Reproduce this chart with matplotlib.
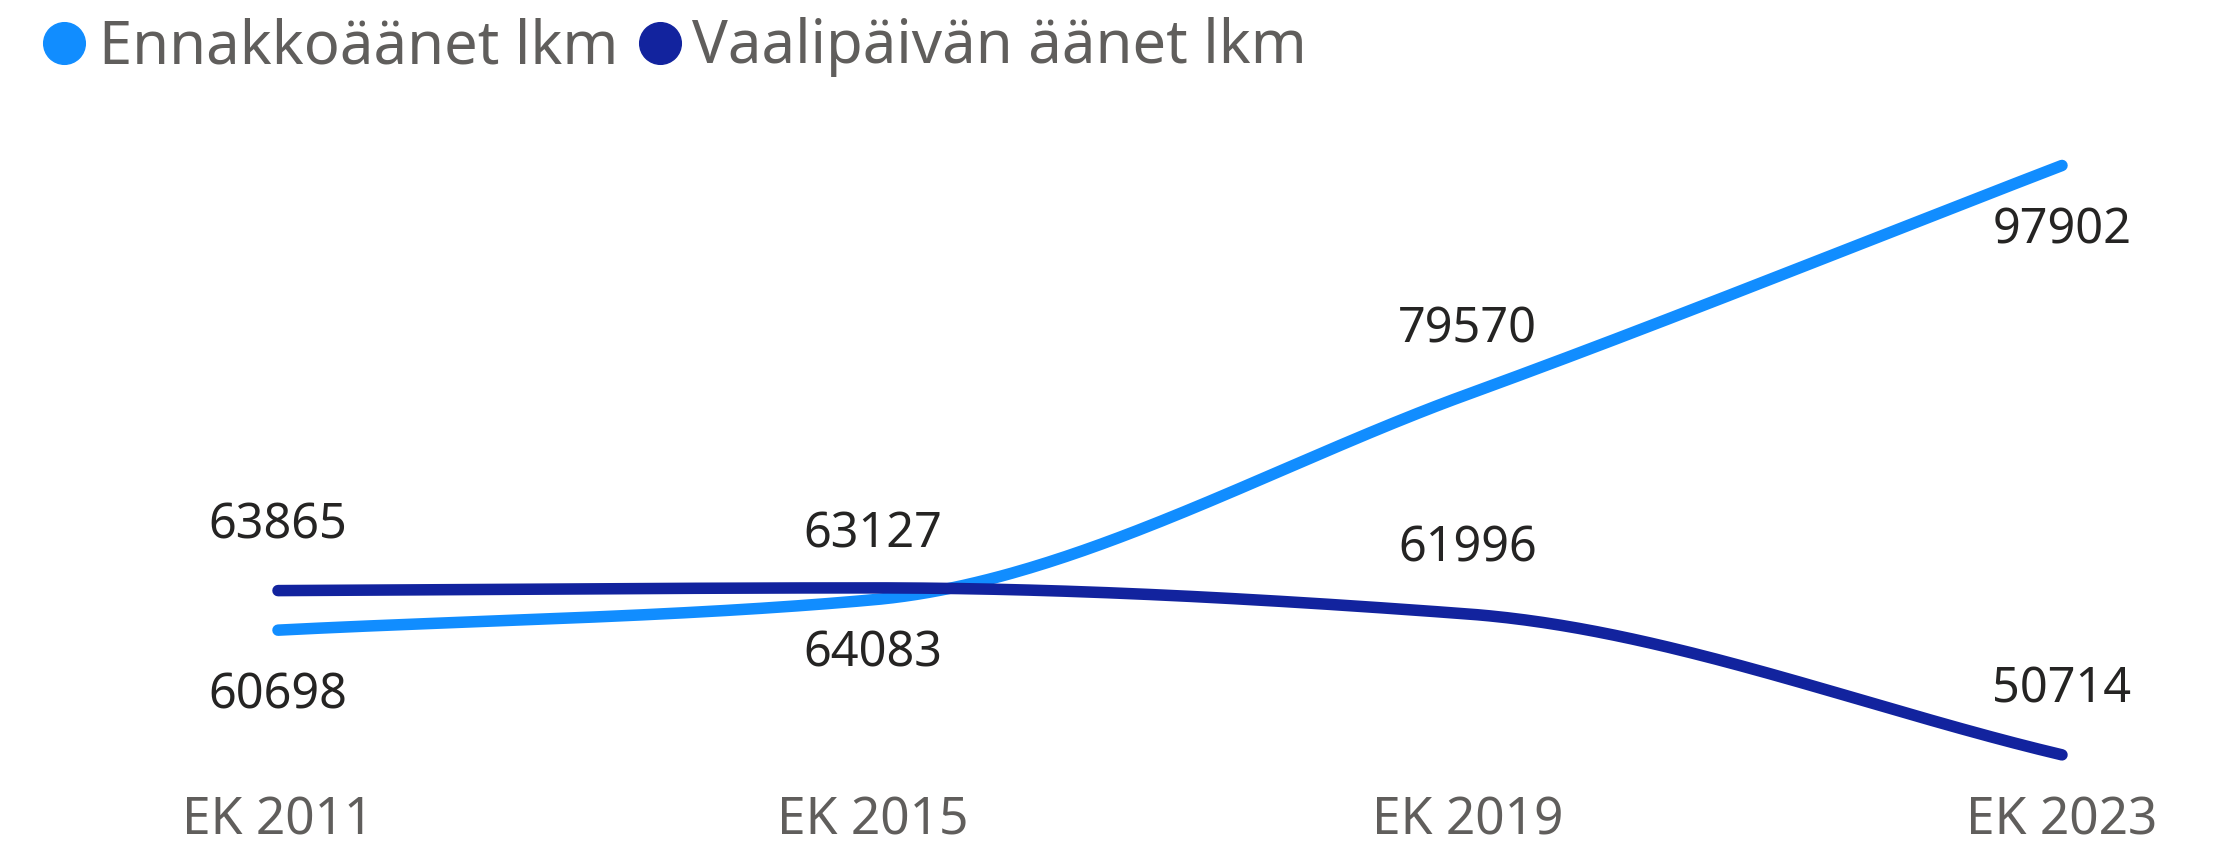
import numpy as np
import matplotlib
matplotlib.use("Agg")
from matplotlib import pyplot as plt
from matplotlib.lines import Line2D

plt.rcParams['font.family'] = ['Noto Sans', 'DejaVu Sans']

# data
years = ["EK 2011", "EK 2015", "EK 2019", "EK 2023"]
ennakko = [60698, 63127, 79570, 97902]
vaalipaiva = [63865, 64083, 61996, 50714]
# label placement per point: +1 above, -1 below
ennakko_side = [-1, 1, 1, -1]
vaalipaiva_side = [1, -1, 1, 1]
legend_labels = ["Ennakkoäänet lkm", "Vaalipäivän äänet lkm"]

c_ennakko = "#118DFF"
c_vaali = "#12239E"


def monotone_curve(y, n=300):
    # Fritsch-Carlson monotone cubic, like the smooth lines in the original
    y = np.asarray(y, dtype=float)
    d = np.diff(y)
    m = np.zeros_like(y)
    m[0], m[-1] = d[0], d[-1]
    for i in range(1, len(y) - 1):
        if d[i - 1] * d[i] <= 0:
            m[i] = 0
        else:
            m[i] = 2 / (1 / d[i - 1] + 1 / d[i])
    xs = np.linspace(0, len(y) - 1, n)
    ys = np.empty_like(xs)
    for j, xv in enumerate(xs):
        i = min(int(xv), len(y) - 2)
        t = xv - i
        h00 = 2 * t**3 - 3 * t**2 + 1
        h10 = t**3 - 2 * t**2 + t
        h01 = -2 * t**3 + 3 * t**2
        h11 = t**3 - t**2
        ys[j] = h00 * y[i] + h10 * m[i] + h01 * y[i + 1] + h11 * m[i + 1]
    return xs, ys


fig = plt.figure(figsize=(22.16, 8.46), dpi=100)
ax = fig.add_axes([0, 0, 1, 1])
ax.set_xlim(-0.4675, 3.259)
ax.set_ylim(43417, 111151)
ax.axis("off")

x = np.arange(len(years))
for vals, sides, col in [(ennakko, ennakko_side, c_ennakko), (vaalipaiva, vaalipaiva_side, c_vaali)]:
    xs, ys = monotone_curve(vals)
    ax.plot(xs, ys, color=col, lw=8.3, solid_capstyle="round", zorder=3)
    for xi, v, s in zip(x, vals, sides):
        ax.annotate(str(v), (xi, v), xytext=(0, 47 * s), textcoords="offset points",
                    ha="center", va="center", fontsize=35, color="#252423")

# category labels
for xi, lab in zip(x, years):
    ax.annotate(lab, (xi, 43417), xytext=(0, 18), textcoords="offset points",
                ha="center", va="center", fontsize=37, color="#605E5C")

# legend, drawn by hand
W, H = 2216, 846
legend_pos = [(64, 99), (660, 692)]  # circle centre x, text start x (pixels)
for (cx, tx), lab, col in zip(legend_pos, legend_labels, [c_ennakko, c_vaali]):
    fig.add_artist(Line2D([cx / W], [1 - 43 / H], marker="o", markersize=30, color=col,
                          ls="", transform=fig.transFigure))
    fig.text(tx / W, 1 - 47 / H, lab, ha="left", va="center", fontsize=43, color="#605E5C")

plt.savefig("out.png", dpi=100)
